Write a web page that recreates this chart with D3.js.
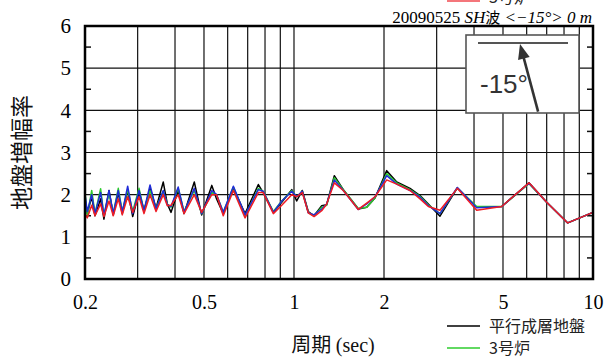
<!DOCTYPE html>
<html>
<head>
<meta charset="utf-8">
<script src="https://cdn.jsdelivr.net/npm/d3@7"></script>
<style>
  html, body { margin: 0; padding: 0; background: #fff; }
  svg { display: block; }
</style>
</head>
<body>
<svg id="chart" width="609" height="358"></svg>
<script>
// periods (sec)
const periods = [0.200, 0.2036, 0.2106, 0.216, 0.2256, 0.2314, 0.2406, 0.2486, 0.2584, 0.2665,
  0.2778, 0.2888, 0.3032, 0.315, 0.330, 0.3456, 0.3654, 0.377, 0.388, 0.410,
  0.4288, 0.464, 0.491, 0.531, 0.551, 0.580, 0.627, 0.686, 0.760, 0.789,
  0.853, 0.910, 0.983, 1.021, 1.066, 1.116, 1.167, 1.238, 1.286, 1.364,
  1.462, 1.641, 1.751, 1.866, 2.042, 2.206, 2.444, 2.640, 2.814, 3.078,
  3.518, 4.083, 4.95, 6.108, 7.0, 8.23, 10.0];

const flatGround = [1.90, 1.55, 1.95, 1.50, 1.90, 1.42, 2.10, 1.52, 2.05, 1.55,
  2.10, 1.48, 2.05, 1.62, 2.15, 1.68, 2.30, 1.78, 1.58, 2.10,
  1.55, 2.30, 1.52, 2.22, 1.90, 1.55, 2.15, 1.55, 2.24, 2.05,
  1.58, 1.82, 2.12, 1.85, 2.10, 1.60, 1.50, 1.74, 1.76, 2.45,
  2.12, 1.66, 1.70, 1.92, 2.57, 2.30, 2.15, 1.98, 1.78, 1.49,
  2.16, 1.70, 1.72, 2.28, 1.82, 1.33, 1.58];

const unit3Green = [2.05, 1.50, 2.10, 1.55, 2.14, 1.50, 2.05, 1.55, 2.15, 1.60,
  2.12, 1.60, 2.15, 1.62, 2.10, 1.68, 2.08, 1.78, 1.70, 2.15,
  1.60, 2.10, 1.55, 2.05, 2.00, 1.58, 2.18, 1.50, 2.15, 2.08,
  1.60, 1.85, 2.10, 1.95, 2.08, 1.58, 1.50, 1.70, 1.75, 2.40,
  2.12, 1.67, 1.70, 1.92, 2.50, 2.28, 2.12, 1.96, 1.76, 1.55,
  2.16, 1.72, 1.72, 2.26, 1.82, 1.33, 1.58];

const seriesBlue = [2.00, 1.60, 2.00, 1.55, 2.05, 1.50, 2.10, 1.55, 2.10, 1.58,
  2.20, 1.55, 2.10, 1.62, 2.23, 1.66, 2.10, 1.76, 1.72, 2.18,
  1.58, 2.15, 1.55, 2.10, 2.00, 1.58, 2.20, 1.52, 2.12, 2.08,
  1.58, 1.85, 2.08, 1.95, 2.08, 1.57, 1.52, 1.66, 1.78, 2.35,
  2.10, 1.65, 1.78, 1.95, 2.45, 2.25, 2.10, 1.94, 1.74, 1.55,
  2.17, 1.69, 1.72, 2.27, 1.82, 1.33, 1.58];

const seriesRed = [1.55, 1.45, 1.75, 1.50, 1.78, 1.48, 1.85, 1.50, 1.90, 1.52,
  1.95, 1.58, 1.95, 1.55, 2.00, 1.60, 2.00, 1.74, 1.75, 2.00,
  1.55, 2.00, 1.58, 2.00, 2.00, 1.50, 2.10, 1.45, 2.05, 2.05,
  1.55, 1.75, 2.00, 1.95, 2.05, 1.57, 1.48, 1.62, 1.78, 2.28,
  2.10, 1.65, 1.80, 1.95, 2.35, 2.25, 2.10, 1.90, 1.72, 1.63,
  2.15, 1.63, 1.72, 2.28, 1.82, 1.33, 1.58];

const xLabelTicks = [0.2, 0.5, 1, 2, 5, 10];
const xGridTicks = [0.3, 0.4, 0.5, 0.6, 0.7, 0.8, 0.9, 1, 2, 3, 4, 5, 6, 7, 8, 9];
const yTicks = [0, 1, 2, 3, 4, 5, 6];
const yMinorTicks = [0.5, 1.5, 2.5, 3.5, 4.5, 5.5];

const series = [
  { name: '平行成層地盤', values: flatGround, color: '#000000' },
  { name: '3号炉', values: unit3Green, color: '#2ecc2e' },
  { name: '', values: seriesBlue, color: '#1f2bd8' },
  { name: '3号炉', values: seriesRed, color: '#ee1c25' }
];

const svg = d3.select('#chart');
const plotLeft = 85, plotRight = 593, plotTop = 26, plotBottom = 279;

const x = d3.scaleLog().domain([0.2, 10]).range([plotLeft, plotRight]);
const y = d3.scaleLinear().domain([0, 6]).range([plotBottom, plotTop]);

const serif = '"Liberation Serif", "Times New Roman", serif';
const sans = '"Noto Sans CJK JP", "Noto Sans", sans-serif';

// grid
const grid = svg.append('g').attr('class', 'grid');
grid.selectAll('line.vx')
  .data(xGridTicks)
  .enter().append('line')
  .attr('class', 'vx')
  .attr('x1', d => x(d)).attr('x2', d => x(d))
  .attr('y1', plotTop).attr('y2', plotBottom)
  .attr('stroke', '#111').attr('stroke-width', 1.2);
grid.selectAll('line.hy')
  .data(yTicks.filter(d => d > 0 && d < 6))
  .enter().append('line')
  .attr('class', 'hy')
  .attr('x1', plotLeft).attr('x2', plotRight)
  .attr('y1', d => y(d)).attr('y2', d => y(d))
  .attr('stroke', '#111').attr('stroke-width', 1.2);

// minor ticks on both vertical edges
yMinorTicks.forEach(v => {
  svg.append('line')
    .attr('x1', plotLeft).attr('x2', plotLeft + 6)
    .attr('y1', y(v)).attr('y2', y(v))
    .attr('stroke', '#111').attr('stroke-width', 1.5);
  svg.append('line')
    .attr('x1', plotRight - 6).attr('x2', plotRight)
    .attr('y1', y(v)).attr('y2', y(v))
    .attr('stroke', '#111').attr('stroke-width', 1.5);
});

// lines
const line = d3.line()
  .x((d, i) => x(periods[i]))
  .y(d => y(d));

svg.append('g').attr('class', 'series')
  .selectAll('path')
  .data(series)
  .enter().append('path')
  .attr('d', d => line(d.values))
  .attr('fill', 'none')
  .attr('stroke', d => d.color)
  .attr('stroke-width', 1.5)
  .attr('stroke-linejoin', 'round');

// frame
svg.append('rect')
  .attr('x', plotLeft).attr('y', plotTop)
  .attr('width', plotRight - plotLeft).attr('height', plotBottom - plotTop)
  .attr('fill', 'none').attr('stroke', '#000').attr('stroke-width', 2.5);

// axes
const xAxis = d3.axisBottom(x)
  .tickValues(xLabelTicks)
  .tickSize(0)
  .tickPadding(16)
  .tickFormat(d => String(d));
const gx = svg.append('g')
  .attr('transform', `translate(0,${plotBottom})`)
  .call(xAxis);
gx.select('.domain').remove();
gx.selectAll('text')
  .style('font-family', serif)
  .style('font-size', '20px')
  .attr('fill', '#000');

const yAxis = d3.axisLeft(y)
  .tickValues(yTicks)
  .tickSize(0)
  .tickPadding(14)
  .tickFormat(d => String(d));
const gy = svg.append('g')
  .attr('transform', `translate(${plotLeft},0)`)
  .call(yAxis);
gy.select('.domain').remove();
gy.selectAll('text')
  .style('font-family', serif)
  .style('font-size', '21px')
  .attr('fill', '#000');

// axis titles
svg.append('text')
  .attr('transform', `translate(30,${(plotTop + plotBottom) / 2}) rotate(-90)`)
  .attr('text-anchor', 'middle')
  .style('font-family', sans)
  .style('font-size', '23px')
  .attr('fill', '#111')
  .text('地盤増幅率');

const xt = svg.append('text')
  .attr('x', 333)
  .attr('y', 352)
  .attr('text-anchor', 'middle')
  .attr('fill', '#111')
  .style('font-size', '20px');
xt.append('tspan').style('font-family', sans).text('周期 ');
xt.append('tspan').style('font-family', serif).text('(sec)');

// title above the frame
const title = svg.append('text')
  .attr('x', 592)
  .attr('y', 23)
  .attr('text-anchor', 'end')
  .style('font-family', serif)
  .style('font-size', '17px')
  .attr('fill', '#000');
title.append('tspan').text('20090525 ');
title.append('tspan').style('font-style', 'italic').text('SH');
title.append('tspan').style('font-family', sans).style('font-size', '15px').text('波');
title.append('tspan').style('font-style', 'italic').text(' <\u221215°> 0 m');

// inset showing incidence angle
const inset = svg.append('g').attr('class', 'inset');
inset.append('rect')
  .attr('x', 466).attr('y', 35)
  .attr('width', 113).attr('height', 78)
  .attr('fill', '#fff').attr('stroke', '#555').attr('stroke-width', 1.6);
inset.append('line')
  .attr('x1', 478).attr('x2', 568)
  .attr('y1', 43).attr('y2', 43)
  .attr('stroke', '#555').attr('stroke-width', 2);
const ang = -15 * Math.PI / 180;
const tipX = 520, tipY = 44, len = 70;
const baseX = tipX - len * Math.sin(ang), baseY = tipY + len * Math.cos(ang);
const ux = (tipX - baseX) / len, uy = (tipY - baseY) / len;
inset.append('line')
  .attr('x1', baseX).attr('y1', baseY)
  .attr('x2', tipX - ux * 10).attr('y2', tipY - uy * 10)
  .attr('stroke', '#333').attr('stroke-width', 2.6);
const hx = tipX - ux * 15, hy = tipY - uy * 15;
inset.append('path')
  .attr('d', `M${tipX},${tipY} L${hx - uy * 6},${hy + ux * 6} L${hx + uy * 6},${hy - ux * 6} Z`)
  .attr('fill', '#333');
inset.append('text')
  .attr('x', 480).attr('y', 93)
  .style('font-family', '"Liberation Sans", Arial, sans-serif')
  .style('font-size', '26px')
  .attr('fill', '#333')
  .text('-15°');

// legend (top entry is cut off by the picture edge)
const legendRows = [
  { s: series[3], y: 0, ty: 3 },
  { s: series[0], y: 326, ty: 332 },
  { s: series[1], y: 348, ty: 354 }
];
legendRows.forEach(r => {
  svg.append('line')
    .attr('x1', 447).attr('x2', 480)
    .attr('y1', r.y).attr('y2', r.y)
    .attr('stroke', r.s.color)
    .attr('stroke-width', r.y === 0 ? 4 : 1.6)
    .attr('opacity', r.y === 0 ? 0.6 : 1);
  svg.append('text')
    .attr('x', 489).attr('y', r.ty)
    .style('font-family', sans)
    .style('font-size', '16px')
    .attr('fill', '#222')
    .text(r.s.name);
});
</script>
</body>
</html>
